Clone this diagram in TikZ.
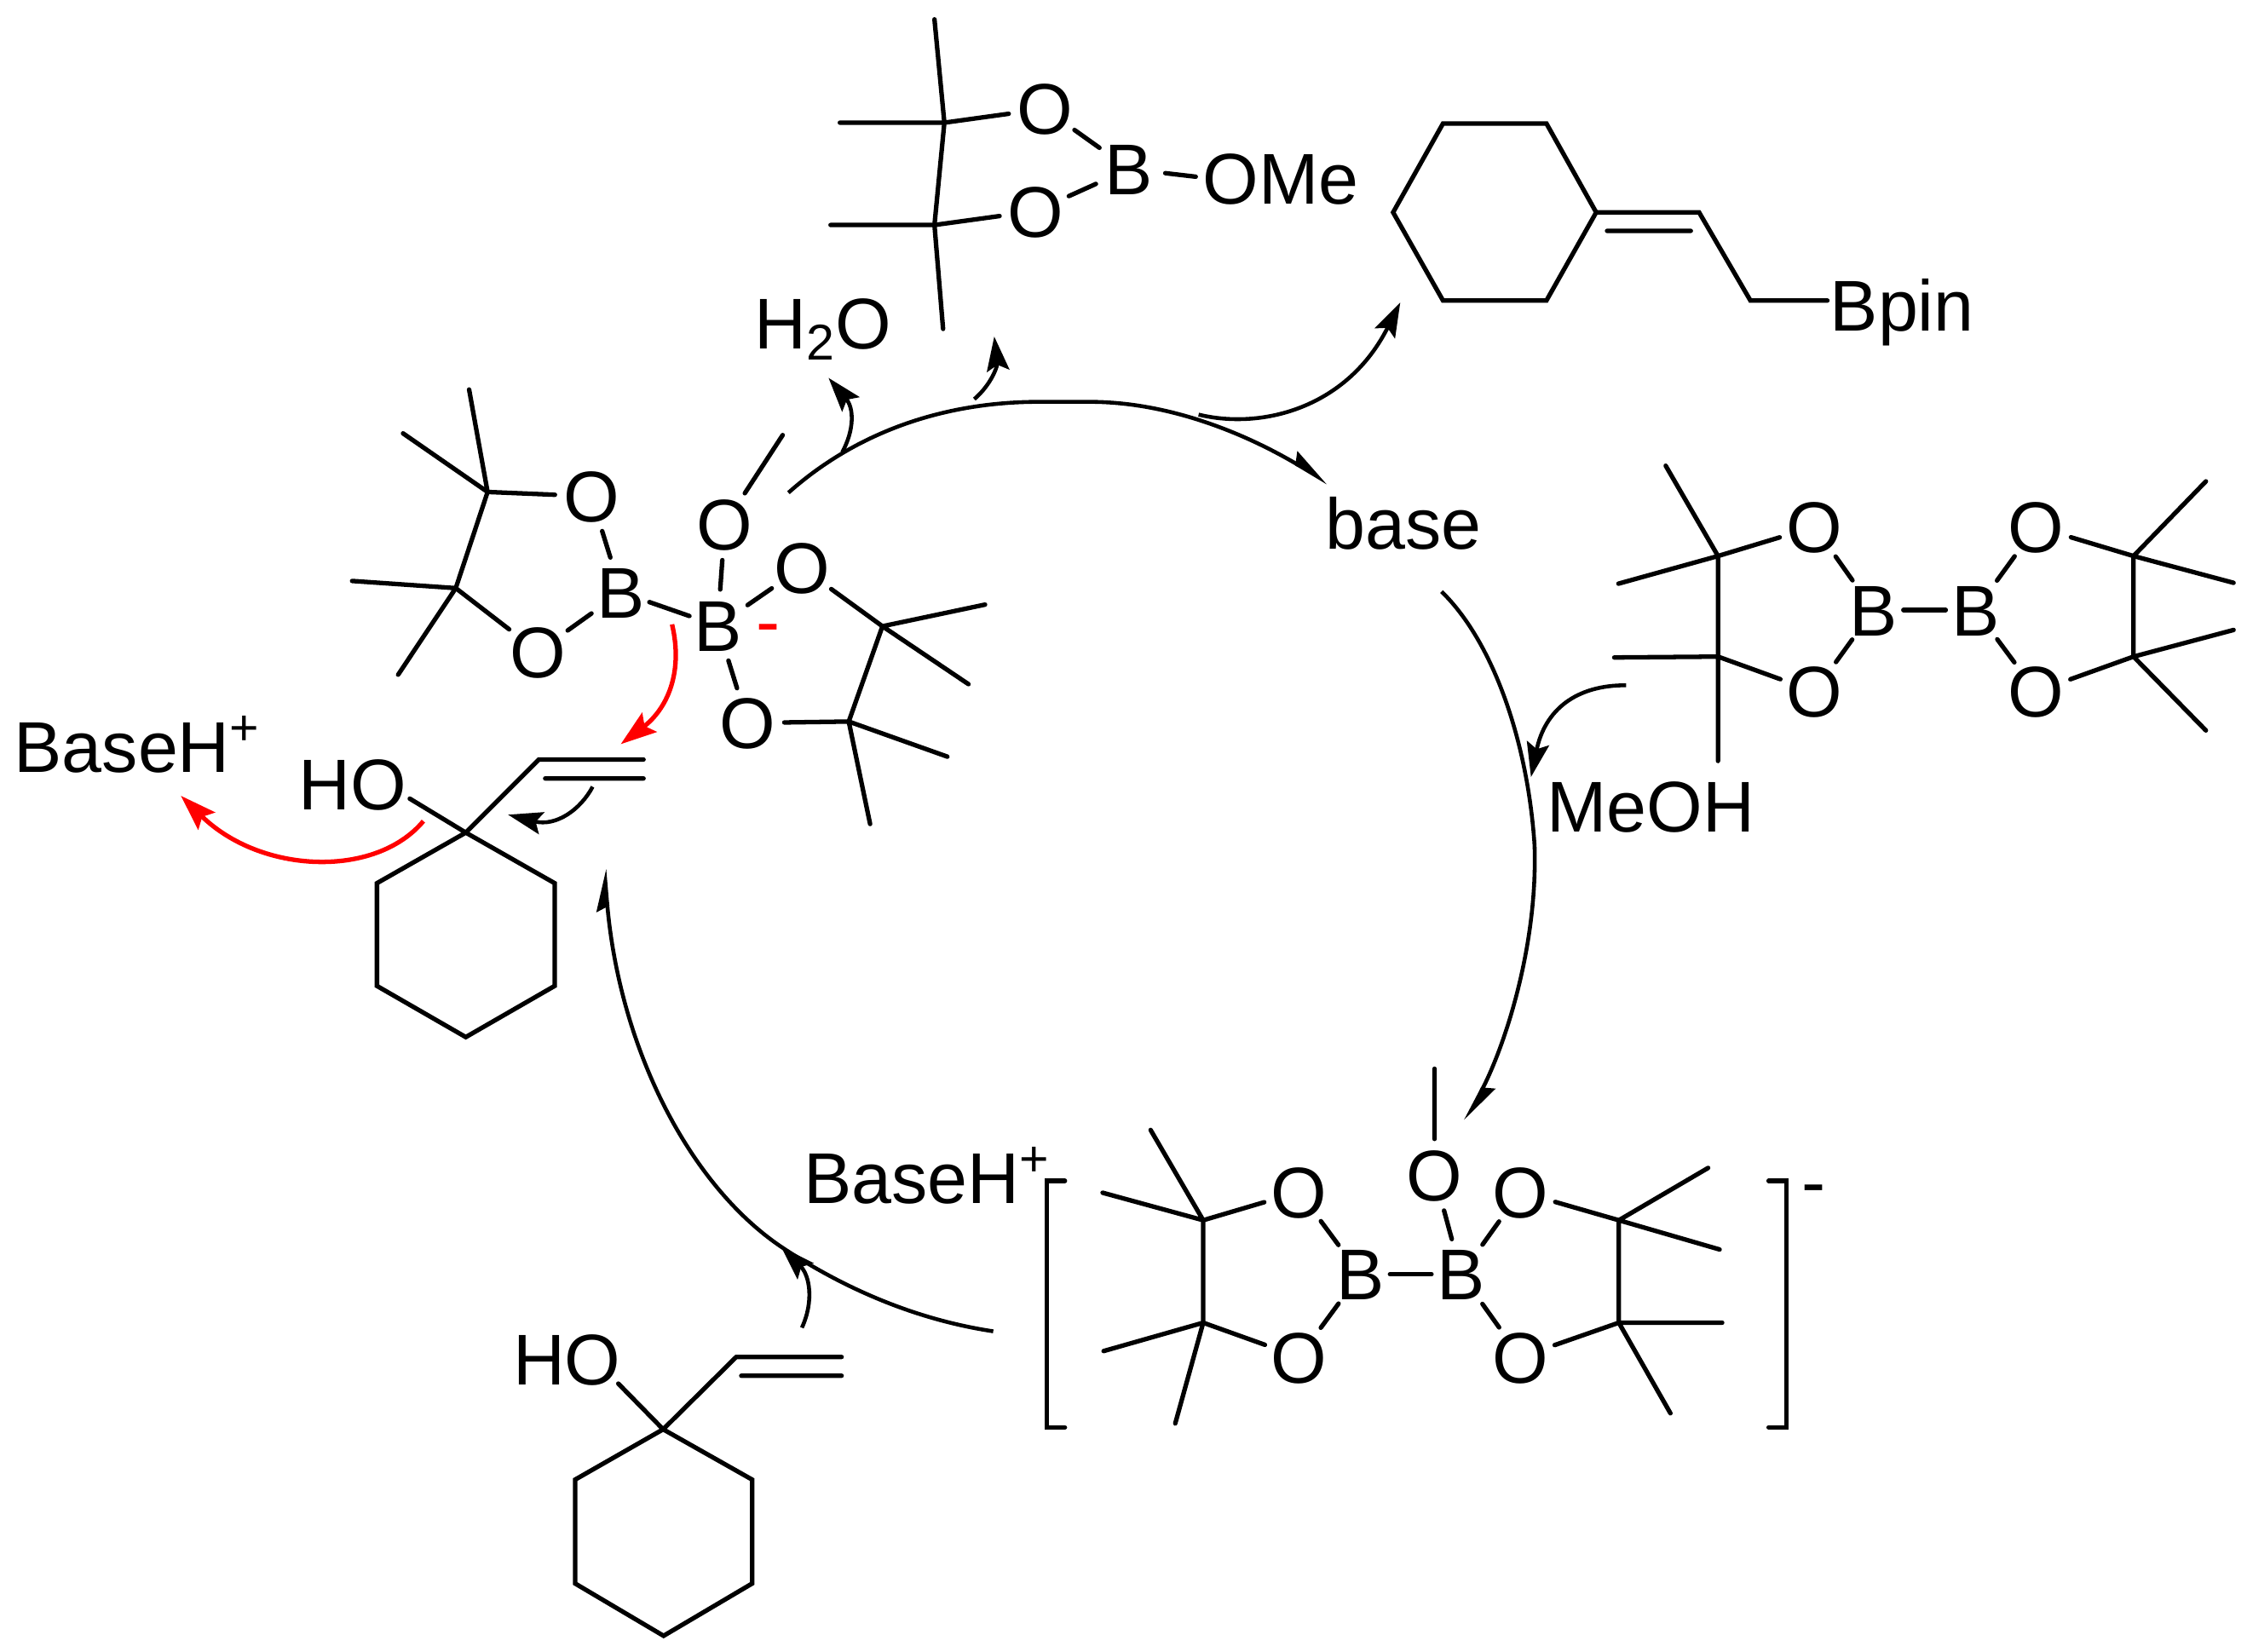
\documentclass[tikz,border=0pt]{standalone}
\usepackage{fontspec}
\setmainfont{Liberation Sans}
\usetikzlibrary{arrows.meta}
\tikzset{
  txt/.style={inner sep=0pt,anchor=base west,font=\fontsize{24}{28}\selectfont},
  atom/.style={circle,inner sep=0pt,minimum size=0.841cm,font=\fontsize{24}{28}\selectfont},
  bond/.style={line width=1.5pt,line cap=round,line join=miter},
  arcfull/.style={line width=1.3pt,-{Stealth[length=11.5pt,width=7.5pt,inset=2pt]}},
  archalf/.style={line width=1.3pt,-{Stealth[left,length=12pt,width=7.5pt,inset=1.5pt]}},
  arcred/.style={line width=1.5pt,red,-{Stealth[length=12pt,width=8pt,inset=2pt]}},
  bb/.style={bond,shorten <=-2.2pt,shorten >=-2.2pt}
}
\newcommand{\atmtxt}[1]{\makebox[0pt]{\raisebox{-8.6pt}[0pt][0pt]{#1}}}
\newcommand{\atomn}[3]{\node[atom] (#1) at (#2) {\atmtxt{#3}};}
\newcommand{\cc}[2]{\coordinate (#1) at (#2);}
\begin{document}
\begin{tikzpicture}[x=0.01682cm,y=-0.01682cm]
\useasboundingbox (0,0) rectangle (1567.8,1152.8);
% --- left borate complex
\cc{a1}{340.2,343.3}\cc{a1m}{327.3,271.8}\cc{a1n}{281.2,302.4}
\cc{a2}{318,410.4}\cc{a2m}{245.7,405.4}\cc{a2n}{277.8,470.8}
\atomn{aO1}{412.6,346.3}{O}\atomn{aO2}{375.4,454.7}{O}\atomn{aB1}{433.4,413.3}{B}
\atomn{aB2}{500.7,436.7}{B}\atomn{aO3}{505.8,365.5}{O}\cc{aMe}{546.1,303.6}
\atomn{aO4}{559.4,396.1}{O}\atomn{aO5}{521.8,504.5}{O}
\cc{a3}{615.7,437}\cc{a3m}{687.3,421.9}\cc{a3n}{675.7,477.4}
\cc{a4}{592.2,503.5}\cc{a4m}{661,528}\cc{a4n}{607.1,575}
\node[txt,red,anchor=base] (aminus) at (535.8,450.7) {-};
\draw[bond] (a1m)--(a1) (a1n)--(a1) (a1)--(a2) (a2m)--(a2) (a2n)--(a2);
\draw[bond] (a1)--(aO1) (aO1)--(aB1) (aB1)--(aO2) (aO2)--(a2);
\draw[bb] (aB1)--(aB2);
\draw[bond] (aB2)--(aO3) (aO3)--(aMe) (aB2)--(aO4) (aB2)--(aO5);
\draw[bond] (aO4)--(a3) (aO5)--(a4) (a3)--(a4) (a3)--(a3m) (a3)--(a3n) (a4)--(a4m) (a4)--(a4n);
% --- vinyl cyclohexanol upper
\node[txt] (vHO) at (208,565.2) {HO};
\cc{vO}{285.9,557.3}\cc{v0}{325,581}\cc{v1}{376,530}\cc{v2}{449,530}\cc{v3}{380.4,543.2}\cc{v4}{449,543.2}
\cc{v5}{387,616.3}\cc{v6}{387,688}\cc{v7}{325,723.7}\cc{v8}{263,688}\cc{v9}{263,616.3}
\draw[bond] (vO)--(v0) (v0)--(v1)--(v2) (v3)--(v4);
\draw[bond] (v0)--(v5)--(v6)--(v7)--(v8)--(v9)--cycle;
% --- BaseH+ upper
\node[txt] (baseA) at (9.5,539) {BaseH\textsuperscript{+}};
% --- water and MeO-Bpin
\node[txt] (water) at (526,243.5) {H\textsubscript{2}O};
\cc{m1}{658.9,85.6}\cc{m1a}{586,85.6}\cc{m1b}{652,13.5}
\cc{m2}{652,157}\cc{m2a}{579.5,157}\cc{m2b}{658,229.5}
\atomn{mO1}{729,75.9}{O}\atomn{mO2}{722.6,147.3}{O}\atomn{mB}{787.8,117.9}{B}
\node[txt] (ome) at (838.8,142.3) {OMe};
\cc{omeL}{834.3,123.3}
\draw[bond] (m1a)--(m1) (m1b)--(m1) (m1)--(m2) (m2a)--(m2) (m2b)--(m2);
\draw[bond] (m1)--(mO1) (mO1)--(mB) (mB)--(mO2) (mO2)--(m2);
\draw[bond] (mB)--(omeL);
% --- allyl Bpin
\cc{h1}{1113.7,148.2}\cc{h2}{1079,86.2}\cc{h3}{1006.8,86.2}\cc{h4}{972,148.2}\cc{h5}{1006.8,209.7}\cc{h6}{1079,209.7}
\cc{d1}{1185.5,148.2}\cc{d2}{1121.3,161.1}\cc{d3}{1179.7,161.1}\cc{d4}{1221.3,209.7}\cc{d5}{1275,209.7}
\node[txt] (bpin) at (1276.5,231) {Bpin};
\draw[bond] (h1)--(h2)--(h3)--(h4)--(h5)--(h6)--cycle;
\draw[bond] (h1)--(d1)--(d4)--(d5) (d2)--(d3);
% --- base, MeOH
\node[txt] (base) at (924.3,383) {base};
\node[txt] (meoh) at (1078.8,580.7) {MeOH};
% --- B2pin2
\cc{b1}{1198.7,388}\cc{b1a}{1162.2,325}\cc{b1b}{1129.2,407.3}
\cc{b2}{1198.7,458.2}\cc{b2a}{1126.3,458.8}\cc{b2b}{1198.7,531}
\atomn{bO1}{1266.1,367.6}{O}\atomn{bO2}{1266.1,482.6}{O}\atomn{bB1}{1307.2,425.7}{B}
\atomn{bB2}{1378.4,425.7}{B}\atomn{bO3}{1420.6,367.6}{O}\atomn{bO4}{1420.6,482.6}{O}
\cc{b3}{1488.6,388}\cc{b3a}{1539.1,335.9}\cc{b3b}{1558.4,406.7}
\cc{b4}{1488.6,458.2}\cc{b4a}{1558.4,439.6}\cc{b4b}{1539.1,509.7}
\draw[bond] (b1a)--(b1) (b1b)--(b1) (b1)--(b2) (b2a)--(b2) (b2b)--(b2);
\draw[bond] (b1)--(bO1) (bO1)--(bB1) (bB1)--(bO2) (bO2)--(b2);
\draw[bb] (bB1)--(bB2);
\draw[bond] (bB2)--(bO3) (bB2)--(bO4) (bO3)--(b3) (bO4)--(b4) (b3)--(b4);
\draw[bond] (b3)--(b3a) (b3)--(b3b) (b4)--(b4a) (b4)--(b4b);
% --- bottom complex
\cc{c1}{839.5,851.5}\cc{c1a}{802.8,788.5}\cc{c1b}{769.3,832.3}
\cc{c2}{839.5,923}\cc{c2a}{770,942.8}\cc{c2b}{820,993.3}
\atomn{cO1}{906.5,831.7}{O}\atomn{cO2}{906.5,947}{O}\atomn{cB1}{949,889.2}{B}
\atomn{cB2}{1019.6,889.2}{B}\atomn{cO3}{1000.9,820.2}{O}\cc{cMe}{1000.9,745.8}
\atomn{cO4}{1060.7,831.7}{O}\atomn{cO5}{1060.7,947}{O}
\cc{c3}{1129.5,851.5}\cc{c3a}{1191.8,815}\cc{c3b}{1199.8,871.9}
\cc{c4}{1129.5,923}\cc{c4a}{1201.6,923}\cc{c4b}{1165.5,986.2}
\draw[bond] (c1a)--(c1) (c1b)--(c1) (c1)--(c2) (c2a)--(c2) (c2b)--(c2);
\draw[bond] (c1)--(cO1) (cO1)--(cB1) (cB1)--(cO2) (cO2)--(c2);
\draw[bb] (cB1)--(cB2);
\draw[bond] (cB2)--(cO3) (cO3)--(cMe) (cB2)--(cO4) (cB2)--(cO5) (cO4)--(c3) (cO5)--(c4) (c3)--(c4);
\draw[bond] (c3)--(c3a) (c3)--(c3b) (c4)--(c4a) (c4)--(c4b);
\cc{k1}{743,824}\cc{k2}{730.4,824}\cc{k3}{730.4,996}\cc{k4}{743,996}
\cc{k5}{1234,824}\cc{k6}{1246.6,824}\cc{k7}{1246.6,996}\cc{k8}{1234,996}
\draw[bond] (k1)--(k2)--(k3)--(k4);
\draw[bond] (k5)--(k6)--(k7)--(k8);
\node[txt,anchor=base] (cminus) at (1265.6,842) {-};
\node[txt] (baseB) at (560.3,839.9) {BaseH\textsuperscript{+}};
% --- bottom vinyl cyclohexanol
\node[txt] (wHO) at (357.5,966.5) {HO};
\cc{wO}{431.4,965.5}\cc{w0}{462.7,997.4}\cc{w1}{513.7,946.9}\cc{w2}{587.2,946.9}\cc{w3}{517.2,960}\cc{w4}{587.2,960}
\cc{w5}{524.8,1032.5}\cc{w6}{524.8,1105}\cc{w7}{463,1141.5}\cc{w8}{401.3,1105}\cc{w9}{401.3,1032.5}
\draw[bond] (wO)--(w0) (w0)--(w1)--(w2) (w3)--(w4);
\draw[bond] (w0)--(w5)--(w6)--(w7)--(w8)--(w9)--cycle;
% --- curved arrows
\cc{t1}{550.1,343.8}\cc{t2}{926.5,336.9}
\draw[archalf] (t1) .. controls (605,295) and (670,280.4) .. (725,280.4) -- (760,280.4) .. controls (820,280.4) and (875,306) .. (t2);
\cc{r1}{1005.8,412.8}\cc{r2}{1022.6,782.2}
\draw[archalf] (r1) .. controls (1042,448) and (1066,518) .. (1070.7,590) .. controls (1073,660) and (1050,730) .. (r2);
\cc{l1}{693,929}\cc{l2}{421.6,606.4}
\draw[archalf] (l1) .. controls (640,921) and (590,900) .. (545,870) .. controls (480,826) and (432,730) .. (l2);
\cc{p1}{836.3,289.3}\cc{p2}{977,211}
\draw[arcfull] (p1) .. controls (880,300) and (940,285) .. (p2);
\cc{q1}{1134.6,478.2}\cc{q2}{1068.2,542.2}
\draw[arcfull] (q1) .. controls (1100,478) and (1078,495) .. (q2);
\cc{s1}{587.7,315.5}\cc{s2}{578.1,263.7}
\draw[arcfull] (s1) .. controls (596,300) and (596,285) .. (s2);
\cc{u1}{679.8,278.5}\cc{u2}{693.7,234.8}
\draw[arcfull] (u1) .. controls (692,268) and (696,255) .. (u2);
\cc{x1}{559.5,926.5}\cc{x2}{545,870}
\draw[arcfull] (x1) .. controls (568,908) and (565,890) .. (x2);
\cc{y1}{413.5,549}\cc{y2}{354.5,568.5}
\draw[arcfull] (y1) .. controls (405,565) and (388,577) .. (y2);
\cc{g1}{468.9,435.7}\cc{g2}{433.1,519.3}
\draw[arcred] (g1) .. controls (477,470) and (465,495) .. (g2);
\cc{f1}{295.4,573}\cc{f2}{126.2,555.3}
\draw[arcred] (f1) .. controls (262,613) and (182,610) .. (f2);
\end{tikzpicture}
\end{document}
